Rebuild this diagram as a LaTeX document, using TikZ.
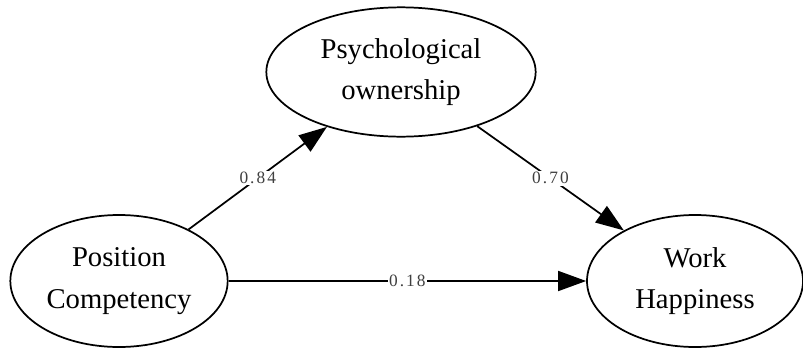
\documentclass[tikz,border=0pt]{standalone}
\usepackage{fontspec}
\setmainfont{Liberation Serif}
\usetikzlibrary{arrows.meta,shapes.geometric}

\begin{document}
\begin{tikzpicture}[
    x=0.75pt, y=-0.75pt,
    var/.style={draw, ellipse, line width=1.3pt, inner sep=0pt, align=center, font=\fontsize{21.5}{31}\selectfont},
    coef/.style={fill=white, inner sep=1pt, font=\fontsize{13}{15}\selectfont\addfontfeature{LetterSpace=12}, text=black!75},
    path/.style={->, line width=1.3pt},
    >={Triangle[length=21pt, width=15pt]}
  ]
  \useasboundingbox (0,0) rectangle (803,347);
  \node[var, minimum width=163pt, minimum height=99pt] (comp) at (119,281) {Position\\Competency};
  \node[var, minimum width=202pt, minimum height=97pt] (own) at (401,72) {Psychological\\ownership};
  \node[var, minimum width=162pt, minimum height=99pt] (happy) at (695,281) {Work\\Happiness};
  \draw[path] (comp) -- (own) node[coef, midway] {0.84};
  \draw[path] (own) -- (happy) node[coef, midway] {0.70};
  \draw[path] (comp) -- (happy) node[coef, midway] {0.18};
\end{tikzpicture}
\end{document}
